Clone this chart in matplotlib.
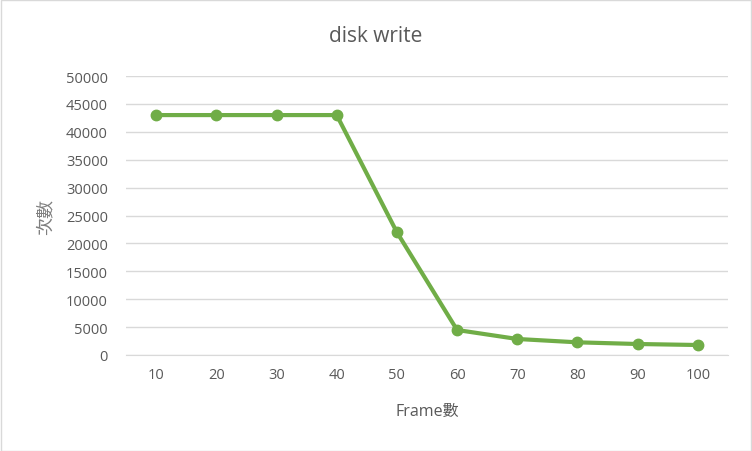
import matplotlib
matplotlib.use('Agg')
import matplotlib.pyplot as plt
import numpy as np

plt.rcParams['font.family'] = ['Open Sans', 'Noto Sans CJK TC', 'DejaVu Sans']

frames = ['10', '20', '30', '40', '50', '60', '70', '80', '90', '100']
counts = [43000, 43000, 43000, 43000, 22000, 4480, 2870, 2270, 1970, 1790]
yticks = [0, 5000, 10000, 15000, 20000, 25000, 30000, 35000, 40000, 45000, 50000]

text_color = '#595959'
grid_color = '#d9d9d9'
line_color = '#70ad47'

fig = plt.figure(figsize=(7.52, 4.52), dpi=100)
fig.patches.append(plt.Rectangle((0.001, 0.001), 0.998, 0.997, transform=fig.transFigure,
                                 fill=False, edgecolor='#d9d9d9', linewidth=1))
ax = fig.add_axes([0.1676, 0.2124, 0.8004, 0.6172])

x = np.arange(len(frames))
ax.plot(x, counts, color=line_color, linewidth=3.0, marker='o', markersize=7.5,
        solid_capstyle='round', solid_joinstyle='round', zorder=3)

ax.set_xlim(-0.5, len(frames) - 0.5)
ax.set_ylim(0, 50000)
ax.set_yticks(yticks)
ax.set_yticklabels([str(v) for v in yticks])
ax.set_xticks(x)
ax.set_xticklabels(frames)
ax.grid(axis='y', color=grid_color, linewidth=1)
ax.set_axisbelow(True)
for s in ['top', 'right', 'left']:
    ax.spines[s].set_visible(False)
ax.spines['bottom'].set_color(grid_color)
ax.tick_params(length=0, colors=text_color, labelsize=10.5)
ax.tick_params(axis='y', pad=13)
ax.tick_params(axis='x', pad=9)

fig.text(0.5, 1 - 36 / 452, 'disk write', color=text_color, fontsize=15,
         ha='center', va='center')
ax.set_xlabel('Frame數', color=text_color, fontsize=11.5, labelpad=15)
ax.set_ylabel('次數', color='#7f7f7f', fontsize=13, labelpad=8)

fig.savefig('out.png', dpi=100)
